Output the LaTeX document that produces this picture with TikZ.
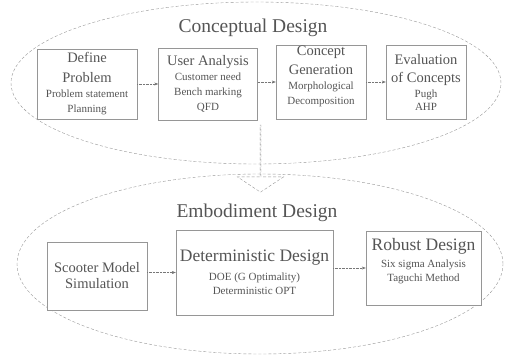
\documentclass[tikz,border=0pt]{standalone}
\usepackage{fontspec}
\setmainfont{Liberation Serif}
\usepackage{tikz}
\usetikzlibrary{arrows.meta,shapes.geometric,shapes.arrows}
\definecolor{linegray}{RGB}{150,150,150}
\definecolor{inkgray}{RGB}{85,85,85}
\newcommand{\stagefont}{\fontsize{19.5}{22}\selectfont}
\newcommand{\boxfont}{\fontsize{14.5}{15}\selectfont}
\newcommand{\bigboxfont}{\fontsize{17.5}{15}\selectfont}
\newcommand{\notefont}{\fontsize{11}{15}\selectfont}

\begin{document}
\begin{tikzpicture}[x=1pt,y=-1pt,
  stage/.style={ellipse,draw=linegray,thin,densely dashed},
  stepbox/.style={draw=linegray,thin,fill=white,align=center,text=inkgray,inner sep=1pt,
    font=\fontsize{11}{15}\selectfont},
  steptext/.style={align=center,text=inkgray,inner sep=0pt,font=\fontsize{11}{15}\selectfont},
  flowarrow/.style={-{Stealth[length=4pt,width=3pt]},draw=inkgray!80,densely dotted,thin}]
  \useasboundingbox (0,0) rectangle (506,357);
  % the two design stages
  \node[stage,minimum width=490,minimum height=162] (concept) at (256,83) {};
  \node[stage,minimum width=486,minimum height=180] (embody) at (260,264) {};
  \node[single arrow,draw=linegray,densely dashed,thin,fill=white,rotate=-90,
        minimum width=46,minimum height=67,single arrow head extend=10,
        single arrow tip angle=113,inner sep=0pt] (handover) at (260.5,158.5) {};
  \node[anchor=base,text=inkgray,font=\stagefont] (concepttitle) at (253,32) {Conceptual Design};
  \node[anchor=base,text=inkgray,font=\stagefont] (embodytitle) at (257,217) {Embodiment Design};

  % conceptual design steps
  \node[stepbox,minimum width=100,minimum height=70] (define) at (87,84)
    {\boxfont Define\\[5pt] \boxfont Problem\\ \notefont Problem statement\\ \notefont Planning};
  \node[stepbox,minimum width=99,minimum height=72] (user) at (208,84)
    {\boxfont User Analysis\\ \notefont Customer need\\ \notefont Bench marking\\ \notefont QFD};
  \node[stepbox,minimum width=90,minimum height=74] (generate) at (321,82) {};
  \node[steptext] (generatetext) at ([yshift=6]generate.center)
    {\boxfont Concept\\[4pt] \boxfont Generation\\ \notefont Morphological\\ \notefont Decomposition};
  \node[stepbox,minimum width=80,minimum height=74] (evaluate) at (426,82)
    {\boxfont Evaluation\\[3pt] \boxfont of Concepts\\ \notefont Pugh\\[-2pt] \notefont AHP};
  \draw[flowarrow] (define.east) -- (define.east -| user.west);
  \draw[flowarrow] (user.east |- generate.west) -- (generate.west);
  \draw[flowarrow] (generate.east) -- (evaluate.west);

  % embodiment design steps
  \node[stepbox,minimum width=100,minimum height=68] (scooter) at (97,276)
    {\boxfont Scooter Model\\[1pt] \boxfont Simulation};
  \node[stepbox,minimum width=157,minimum height=85] (determ) at (254.5,272.5)
    {\bigboxfont Deterministic Design\\[4pt] \notefont DOE (G Optimality)\\[-1pt] \notefont Deterministic OPT};
  \node[stepbox,minimum width=115,minimum height=74] (robust) at (423.5,268) {};
  \node[steptext] (robusttext) at ([yshift=7]robust.center)
    {\bigboxfont Robust Design\\[2pt] \notefont Six sigma Analysis\\[-1pt] \notefont Taguchi Method};
  \draw[flowarrow] (determ.west -| scooter.east) -- (determ.west);
  \draw[flowarrow] (robust.west -| determ.east) -- (robust.west);
\end{tikzpicture}
\end{document}
